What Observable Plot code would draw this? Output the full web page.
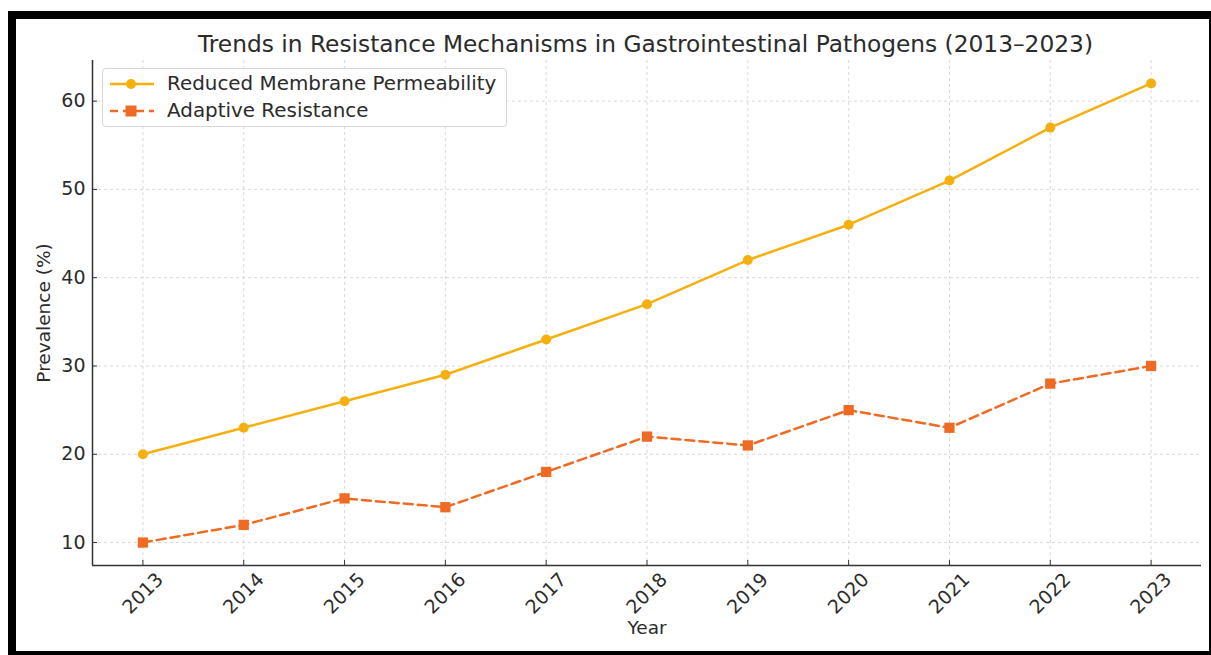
<!DOCTYPE html>
<html>
<head>
<meta charset="utf-8">
<script src="https://cdn.jsdelivr.net/npm/d3@7"></script>
<script src="https://cdn.jsdelivr.net/npm/@observablehq/plot@0.6"></script>
<style>
  html, body { margin: 0; padding: 0; background: #fff; }
  body { width: 1211px; height: 655px; position: relative; overflow: hidden; font-family: "DejaVu Sans", sans-serif; color: #262626; }
  #frame { position: absolute; left: 8px; top: 11px; width: 1203px; height: 644px; box-sizing: border-box;
           border-top: 8px solid #000; border-left: 8px solid #000; border-right: 2px solid #000; border-bottom: 4px solid #000; }
  #title { position: absolute; left: 45px; width: 1201px; top: 30px; text-align: center; font-size: 23.3px; line-height: 27px; color: #2b2b2b; white-space: nowrap; }
  #chart { position: absolute; left: 16px; top: 19px; }
  #legend { position: absolute; left: 102px; top: 68px; width: 405px; height: 59px; box-sizing: border-box;
            border: 1px solid #d6d6d6; border-radius: 4px; background: rgba(255,255,255,0.85); font-size: 19.9px; }
  .row { position: absolute; left: 0; height: 24px; line-height: 24px; }
  .row svg { position: absolute; left: 5px; top: 0; }
  .row span { position: absolute; left: 64px; top: 0; white-space: nowrap; color: #2b2b2b; }
</style>
</head>
<body>
<div id="frame"></div>
<div id="title"></div>
<div id="chart"></div>
<div id="legend"></div>
<script>
const titleText = "Trends in Resistance Mechanisms in Gastrointestinal Pathogens (2013–2023)";
const years = [2013, 2014, 2015, 2016, 2017, 2018, 2019, 2020, 2021, 2022, 2023];
const reducedPermeability = [20, 23, 26, 29, 33, 37, 42, 46, 51, 57, 62];
const adaptiveResistance = [10, 12, 15, 14, 18, 22, 21, 25, 23, 28, 30];
const yTicks = [10, 20, 30, 40, 50, 60];
const seriesNames = ["Reduced Membrane Permeability", "Adaptive Resistance"];
const seriesColors = ["#f5b00f", "#ef6a22"];
const xLabel = "Year";
const yLabel = "Prevalence (%)";

document.getElementById("title").textContent = titleText;

const rows1 = years.map((y, i) => ({year: y, value: reducedPermeability[i]}));
const rows2 = years.map((y, i) => ({year: y, value: adaptiveResistance[i]}));

const allVals = reducedPermeability.concat(adaptiveResistance);
const yMin = d3.min(allVals), yMax = d3.max(allVals);
const yPad = (yMax - yMin) * 0.05;

const chart = Plot.plot({
  width: 1193,
  height: 632,
  marginLeft: 76,
  marginRight: 8,
  marginTop: 41,
  marginBottom: 86,
  style: { fontFamily: "DejaVu Sans, sans-serif", fontSize: "18px", color: "#2b2b2b", background: "transparent" },
  x: { domain: [years[0] - 0.5, years[years.length - 1] + 0.5] },
  y: { domain: [yMin - yPad, yMax + yPad] },
  marks: [
    Plot.gridX(years, { stroke: "#cfcfcf", strokeOpacity: 1, strokeDasharray: "3,3", strokeWidth: 0.8 }),
    Plot.gridY(yTicks, { stroke: "#cfcfcf", strokeOpacity: 1, strokeDasharray: "3,3", strokeWidth: 0.8 }),
    Plot.axisY({ ticks: yTicks, tickSize: -5, tickPadding: 12, stroke: "#333", label: null, fontSize: 19 }),
    Plot.axisY({ ticks: [], tickSize: 0, label: yLabel, labelAnchor: "center", labelArrow: "none", labelOffset: 56, fontSize: 18.5 }),
    Plot.axisX({ ticks: years, tickFormat: "d", tickSize: -5, tickRotate: -45, textAnchor: "middle", lineAnchor: "middle", tickPadding: 33, stroke: "#333", label: null, fontSize: 19 }),
    Plot.axisX({ ticks: [], tickSize: 0, label: xLabel, labelAnchor: "center", labelArrow: "none", labelOffset: 68, fontSize: 18.5 }),
    Plot.ruleY([yMin - yPad], { stroke: "#333", strokeWidth: 1.5 }),
    Plot.ruleX([years[0] - 0.5], { stroke: "#333", strokeWidth: 1.5 }),
    Plot.line(rows1, { x: "year", y: "value", stroke: seriesColors[0], strokeWidth: 2.5 }),
    Plot.dot(rows1, { x: "year", y: "value", fill: seriesColors[0], r: 5, symbol: "circle" }),
    Plot.line(rows2, { x: "year", y: "value", stroke: seriesColors[1], strokeWidth: 2.5, strokeDasharray: "9,5" }),
    Plot.dot(rows2, { x: "year", y: "value", fill: seriesColors[1], r: 5.8, symbol: "square" })
  ]
});
document.getElementById("chart").appendChild(chart);

// Legend
const legend = document.getElementById("legend");
seriesNames.forEach((name, i) => {
  const row = document.createElement("div");
  row.className = "row";
  row.style.top = (i === 0 ? 3 : 30) + "px";
  row.style.width = "100%";
  const dash = i === 1 ? 'stroke-dasharray="8,5"' : "";
  const mark = i === 0
    ? `<circle cx="23" cy="12" r="5" fill="${seriesColors[i]}"/>`
    : `<rect x="17.5" y="6.5" width="11" height="11" fill="${seriesColors[i]}"/>`;
  row.innerHTML = `<svg width="48" height="24"><line x1="2" x2="46" y1="12" y2="12" stroke="${seriesColors[i]}" stroke-width="2.5" ${dash}/>${mark}</svg><span>${name}</span>`;
  legend.appendChild(row);
});
</script>
</body>
</html>
